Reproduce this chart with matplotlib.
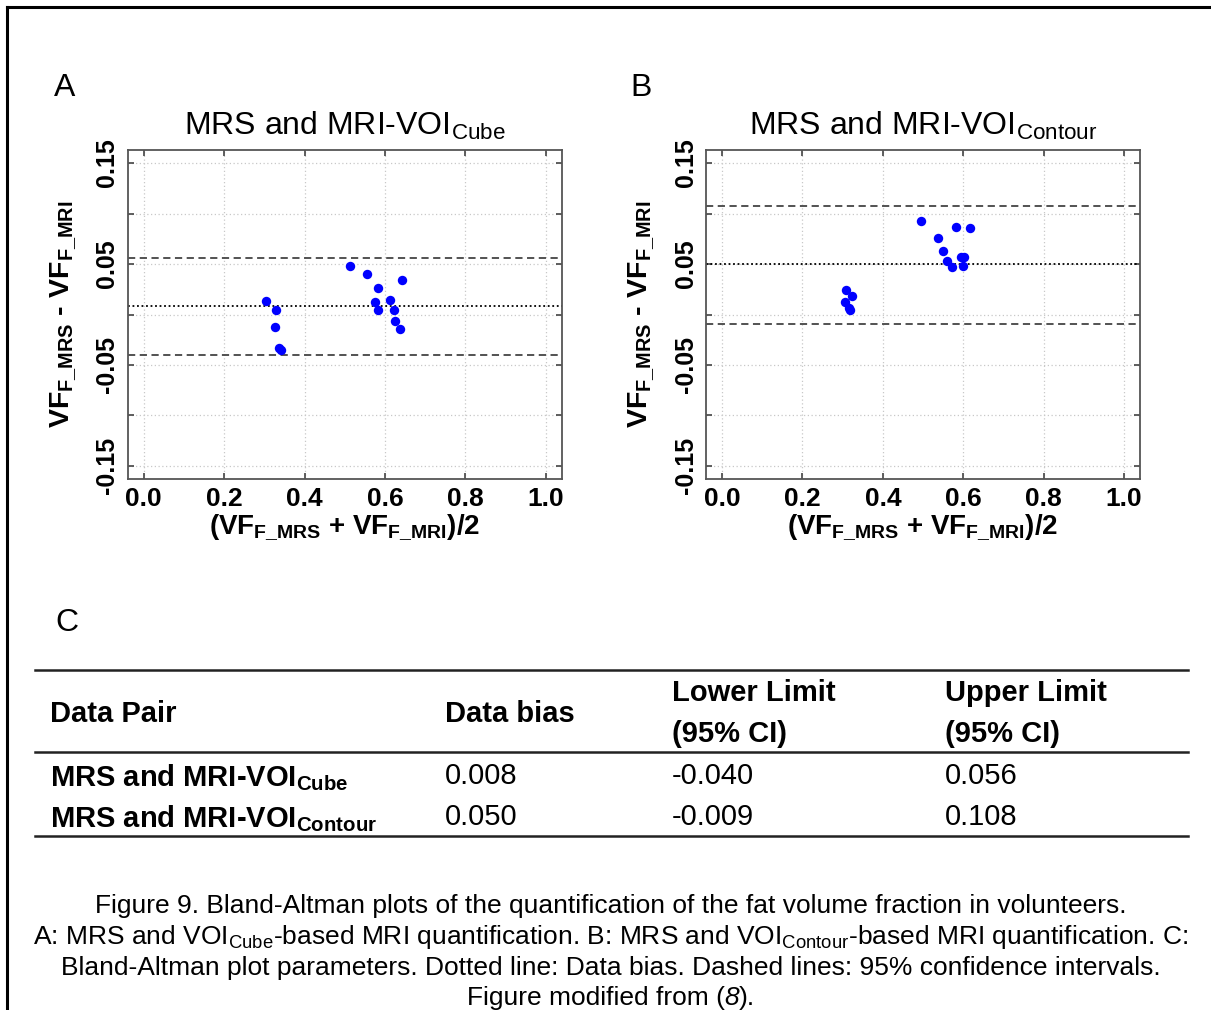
import matplotlib
matplotlib.use("Agg")
import matplotlib.pyplot as plt
from matplotlib.lines import Line2D

plt.rcParams['font.family'] = ['Liberation Sans', 'DejaVu Sans']
plt.rcParams['mathtext.fontset'] = 'custom'
plt.rcParams['mathtext.rm'] = 'Liberation Sans'
plt.rcParams['mathtext.bf'] = 'Liberation Sans:bold'
plt.rcParams['mathtext.it'] = 'Liberation Sans:italic'

# panel A: MRS vs MRI-VOI cube
cube_mean = [0.305, 0.329, 0.327, 0.337, 0.341, 0.514, 0.555, 0.584,
             0.575, 0.584, 0.613, 0.622, 0.626, 0.637, 0.643]
cube_diff = [0.013, 0.004, -0.0125, -0.033, -0.0356, 0.0484, 0.0405, 0.026,
             0.0122, 0.0046, 0.0145, 0.0049, -0.0066, -0.0139, 0.0342]

# panel B: MRS vs MRI-VOI contour
contour_mean = [0.308, 0.324, 0.305, 0.317, 0.319, 0.494, 0.537, 0.549,
                0.559, 0.571, 0.581, 0.617, 0.594, 0.603, 0.599]
contour_diff = [0.0243, 0.0181, 0.0122, 0.0065, 0.004, 0.0929, 0.0754, 0.0625,
                0.0533, 0.0467, 0.0869, 0.086, 0.0569, 0.0569, 0.0477]

pairs = ["Cube", "Contour"]
bias = [0.008, 0.050]
lower = [-0.040, -0.009]
upper = [0.056, 0.108]

yticks = [-0.15, -0.10, -0.05, 0.0, 0.05, 0.10, 0.15]
ytick_labels = ["-0.15", "", "-0.05", "", "0.05", "", "0.15"]
xticks = [0.0, 0.2, 0.4, 0.6, 0.8, 1.0]
xtick_labels = ["0.0", "0.2", "0.4", "0.6", "0.8", "1.0"]

W, H = 1211, 1010
fig = plt.figure(figsize=(W / 100, H / 100), dpi=100)


def px(x, y):
    return x / W, 1 - y / H


def ba_panel(left, xs, ys, i, letter, letter_x):
    ax = fig.add_axes([left / W, 1 - 479 / H, 434 / W, 329 / H])
    ax.scatter(xs, ys, s=46, color="#0000ff", zorder=3, linewidths=0)
    ax.axhline(bias[i], color="black", ls=(0, (1, 1.5)), lw=1.3, zorder=2)
    ax.axhline(lower[i], color="#444444", ls=(0, (4, 2.5)), lw=1.3, zorder=2)
    ax.axhline(upper[i], color="#444444", ls=(0, (4, 2.5)), lw=1.3, zorder=2)
    ax.set_xlim(-0.04, 1.04)
    ax.set_ylim(-0.163, 0.163)
    ax.set_xticks(xticks)
    ax.set_xticklabels(xtick_labels, fontsize=19, fontweight="bold")
    ax.set_yticks(yticks)
    ax.set_yticklabels(ytick_labels, fontsize=18, fontweight="bold",
                       rotation=90, va="center")
    ax.tick_params(direction="in", top=True, right=True, length=4,
                   width=1.2, color="#444444", pad=6)
    ax.grid(True, color="#c8c8c8", ls=(0, (1, 2)), lw=0.9)
    for sp in ax.spines.values():
        sp.set_color("#555555")
        sp.set_linewidth(1.3)
    ax.set_title("MRS and MRI-VOI$_{\\mathrm{%s}}$" % pairs[i], fontsize=23, pad=11)
    ax.set_xlabel("(VF$_{\\mathbf{F\\_MRS}}$ + VF$_{\\mathbf{F\\_MRI}}$)/2",
                  fontsize=20, fontweight="bold", labelpad=1)
    ax.set_ylabel("VF$_{\\mathbf{F\\_MRS}}$ - VF$_{\\mathbf{F\\_MRI}}$",
                  fontsize=20.5, fontweight="bold", labelpad=12)
    fig.text(*px(letter_x, 88), letter, fontsize=23, va="center", ha="left")
    return ax


ba_panel(127.7, cube_mean, cube_diff, 0, "A", 54)
ba_panel(706, contour_mean, contour_diff, 1, "B", 630)

# table C
fig.text(*px(55, 623), "C", fontsize=23, va="center", ha="left")
for yy in [670, 752, 836]:
    fig.add_artist(Line2D([35 / W, 1188 / W], [1 - yy / H] * 2,
                          color="#222222", lw=1.8))

col_x = [50, 445, 672, 945]
fs = 21
fig.text(*px(col_x[0], 714), "Data Pair", fontsize=fs, fontweight="bold", va="center")
fig.text(*px(col_x[1], 714), "Data bias", fontsize=fs, fontweight="bold", va="center")
fig.text(*px(col_x[2], 693), "Lower Limit", fontsize=fs, fontweight="bold", va="center")
fig.text(*px(col_x[2], 734), "(95% CI)", fontsize=fs, fontweight="bold", va="center")
fig.text(*px(col_x[3], 693), "Upper Limit", fontsize=fs, fontweight="bold", va="center")
fig.text(*px(col_x[3], 734), "(95% CI)", fontsize=fs, fontweight="bold", va="center")
for i, yy in enumerate([776, 817]):
    fig.text(*px(col_x[0], yy + 10), "MRS and MRI-VOI$_{\\mathbf{%s}}$" % pairs[i],
             fontsize=fs, fontweight="bold", va="baseline")
    fig.text(*px(col_x[1], yy), "%.3f" % bias[i], fontsize=fs, va="center")
    fig.text(*px(col_x[2], yy), "%.3f" % lower[i], fontsize=fs, va="center")
    fig.text(*px(col_x[3], yy), "%.3f" % upper[i], fontsize=fs, va="center")

# caption
caption = [
    "Figure 9. Bland-Altman plots of the quantification of the fat volume fraction in volunteers.",
    "A: MRS and VOI$_{\\mathrm{Cube}}$-based MRI quantification. B: MRS and VOI$_{\\mathrm{Contour}}$-based MRI quantification. C:",
    "Bland-Altman plot parameters. Dotted line: Data bias. Dashed lines: 95% confidence intervals.",
]
cfs = 19
for k, line in enumerate(caption):
    fig.text(*px(611, 906 + 31 * k), line, fontsize=cfs, ha="center", va="center")

# last caption line with an italic reference number
parts = [("Figure modified from (", "normal"), ("8", "italic"), (").", "normal")]
renderer = fig.canvas.get_renderer()
objs = [fig.text(0, 1 - 998 / H, s, fontsize=cfs, fontstyle=st, va="center")
        for s, st in parts]
widths = [o.get_window_extent(renderer).width for o in objs]
x0 = 611 - sum(widths) / 2
for o, w in zip(objs, widths):
    o.set_x(x0 / W)
    x0 += w

# frame around the figure
fig.add_artist(Line2D([7 / W, 1], [1 - 7 / H] * 2, color="black", lw=2.2))
fig.add_artist(Line2D([7 / W] * 2, [0, 1 - 7 / H], color="black", lw=2.2))

fig.savefig("out.png", dpi=100)
